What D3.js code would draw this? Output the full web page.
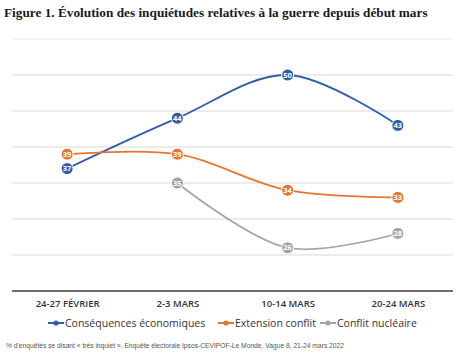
<!DOCTYPE html>
<html>
<head>
<meta charset="utf-8">
<script src="https://cdn.jsdelivr.net/npm/d3@7"></script>
<style>
  body { margin: 0; background: #fff; }
  svg { display: block; }
</style>
</head>
<body>
<div id="chart"></div>
<script>
// Data //
const periods = ["24-27 FÉVRIER", "2-3 MARS", "10-14 MARS", "20-24 MARS"];
const economiques = [37, 44, 50, 43];
const extension = [39, 39, 34, 33];
const nucleaire = [null, 35, 26, 28];
const seriesNames = ["Conséquences économiques", "Extension conflit", "Conflit nucléaire"];
const seriesColors = ["#2f5da9", "#e5762f", "#a3a3a6"];
const gridValues = [25, 30, 35, 40, 45, 50, 55];

const W = 460, H = 355;
const svg = d3.select("#chart").append("svg")
    .attr("width", W)
    .attr("height", H);

/* Title */
const title = svg.append("text")
    .attr("x", 4)
    .attr("y", 17)
    .attr("font-family", "'Liberation Serif', serif")
    .attr("font-weight", "bold")
    .attr("font-size", "13px")
    .attr("fill", "#1a1a1a")
    .text("Figure 1. Évolution des inquiétudes relatives à la guerre depuis début mars");
// fit title width to the reference (~424px)
const tw = title.node().getComputedTextLength();
title.attr("font-size", (13 * 424 / tw).toFixed(2) + "px");

/* Scales */
const x = d3.scalePoint()
    .domain(periods)
    .range([12, 453])
    .padding(0.5);

const y = d3.scaleLinear()
    .domain([20, 55])
    .range([291, 39]);

// gridlines
svg.append("g")
    .selectAll("line")
    .data(gridValues)
    .join("line")
    .attr("x1", 12).attr("x2", 453)
    .attr("y1", d => y(d)).attr("y2", d => y(d))
    .attr("stroke", d => d === 55 ? "#ececec" : "#d9d9d9")
    .attr("stroke-width", 1);

// x axis
const xAxis = svg.append("g")
    .attr("transform", `translate(0,${y(20)})`)
    .call(d3.axisBottom(x).tickSize(0).tickPadding(9));
xAxis.select(".domain")
    .attr("d", "M12,0H453")
    .attr("stroke", "#6e6e6e")
    .attr("stroke-width", 2);
xAxis.selectAll("text")
    .attr("font-family", "'Open Sans', sans-serif")
    .attr("font-weight", "600")
    .attr("font-size", "9.5px")
    .attr("fill", "#333");

/* Lines */
const allSeries = [economiques, extension, nucleaire];
const line = d3.line()
    .x(d => x(d.p))
    .y(d => y(d.v))
    .curve(d3.curveCatmullRom.alpha(0.5));

allSeries.forEach((vals, i) => {
    const pts = vals.map((v, j) => ({ p: periods[j], v: v })).filter(d => d.v != null);
    svg.append("path")
        .datum(pts)
        .attr("fill", "none")
        .attr("stroke", seriesColors[i])
        .attr("stroke-width", i === 2 ? 1.6 : 1.8)
        .attr("d", line);
});

allSeries.forEach((vals, i) => {
    const pts = vals.map((v, j) => ({ p: periods[j], v: v })).filter(d => d.v != null);
    const g = svg.append("g");
    g.selectAll("circle")
        .data(pts)
        .join("circle")
        .attr("cx", d => x(d.p))
        .attr("cy", d => y(d.v))
        .attr("r", 6)
        .attr("fill", seriesColors[i])
        .attr("stroke", "#fff")
        .attr("stroke-width", 1);
    g.selectAll("text")
        .data(pts)
        .join("text")
        .attr("x", d => x(d.p))
        .attr("y", d => y(d.v))
        .attr("dy", "0.35em")
        .attr("text-anchor", "middle")
        .attr("font-family", "'Open Sans', sans-serif")
        .attr("font-weight", "bold")
        .attr("font-size", "7.5px")
        .attr("fill", "#fff")
        .text(d => d.v);
});

/* Legend */
const legendX = [48, 218, 320];
const legend = svg.append("g").attr("transform", "translate(0,323)");
seriesNames.forEach((name, i) => {
    const lg = legend.append("g").attr("transform", `translate(${legendX[i]},0)`);
    lg.append("line")
        .attr("x1", 0).attr("x2", 16)
        .attr("stroke", seriesColors[i])
        .attr("stroke-width", 2);
    lg.append("circle")
        .attr("cx", 8).attr("r", 2.6)
        .attr("fill", seriesColors[i]);
    lg.append("text")
        .attr("x", 17)
        .attr("dy", "0.35em")
        .attr("font-family", "'Open Sans', sans-serif")
        .attr("font-size", "10.5px")
        .attr("fill", "#333")
        .text(name);
});

/* Source note */
svg.append("text")
    .attr("x", 6)
    .attr("y", 348)
    .attr("font-family", "'Liberation Sans', Arial, sans-serif")
    .attr("font-size", "6.7px")
    .attr("fill", "#555")
    .text("% d'enquêtés se disant « très inquiet ». Enquête électorale Ipsos-CEVIPOF-Le Monde, Vague 8, 21-24 mars 2022");
</script>
</body>
</html>
